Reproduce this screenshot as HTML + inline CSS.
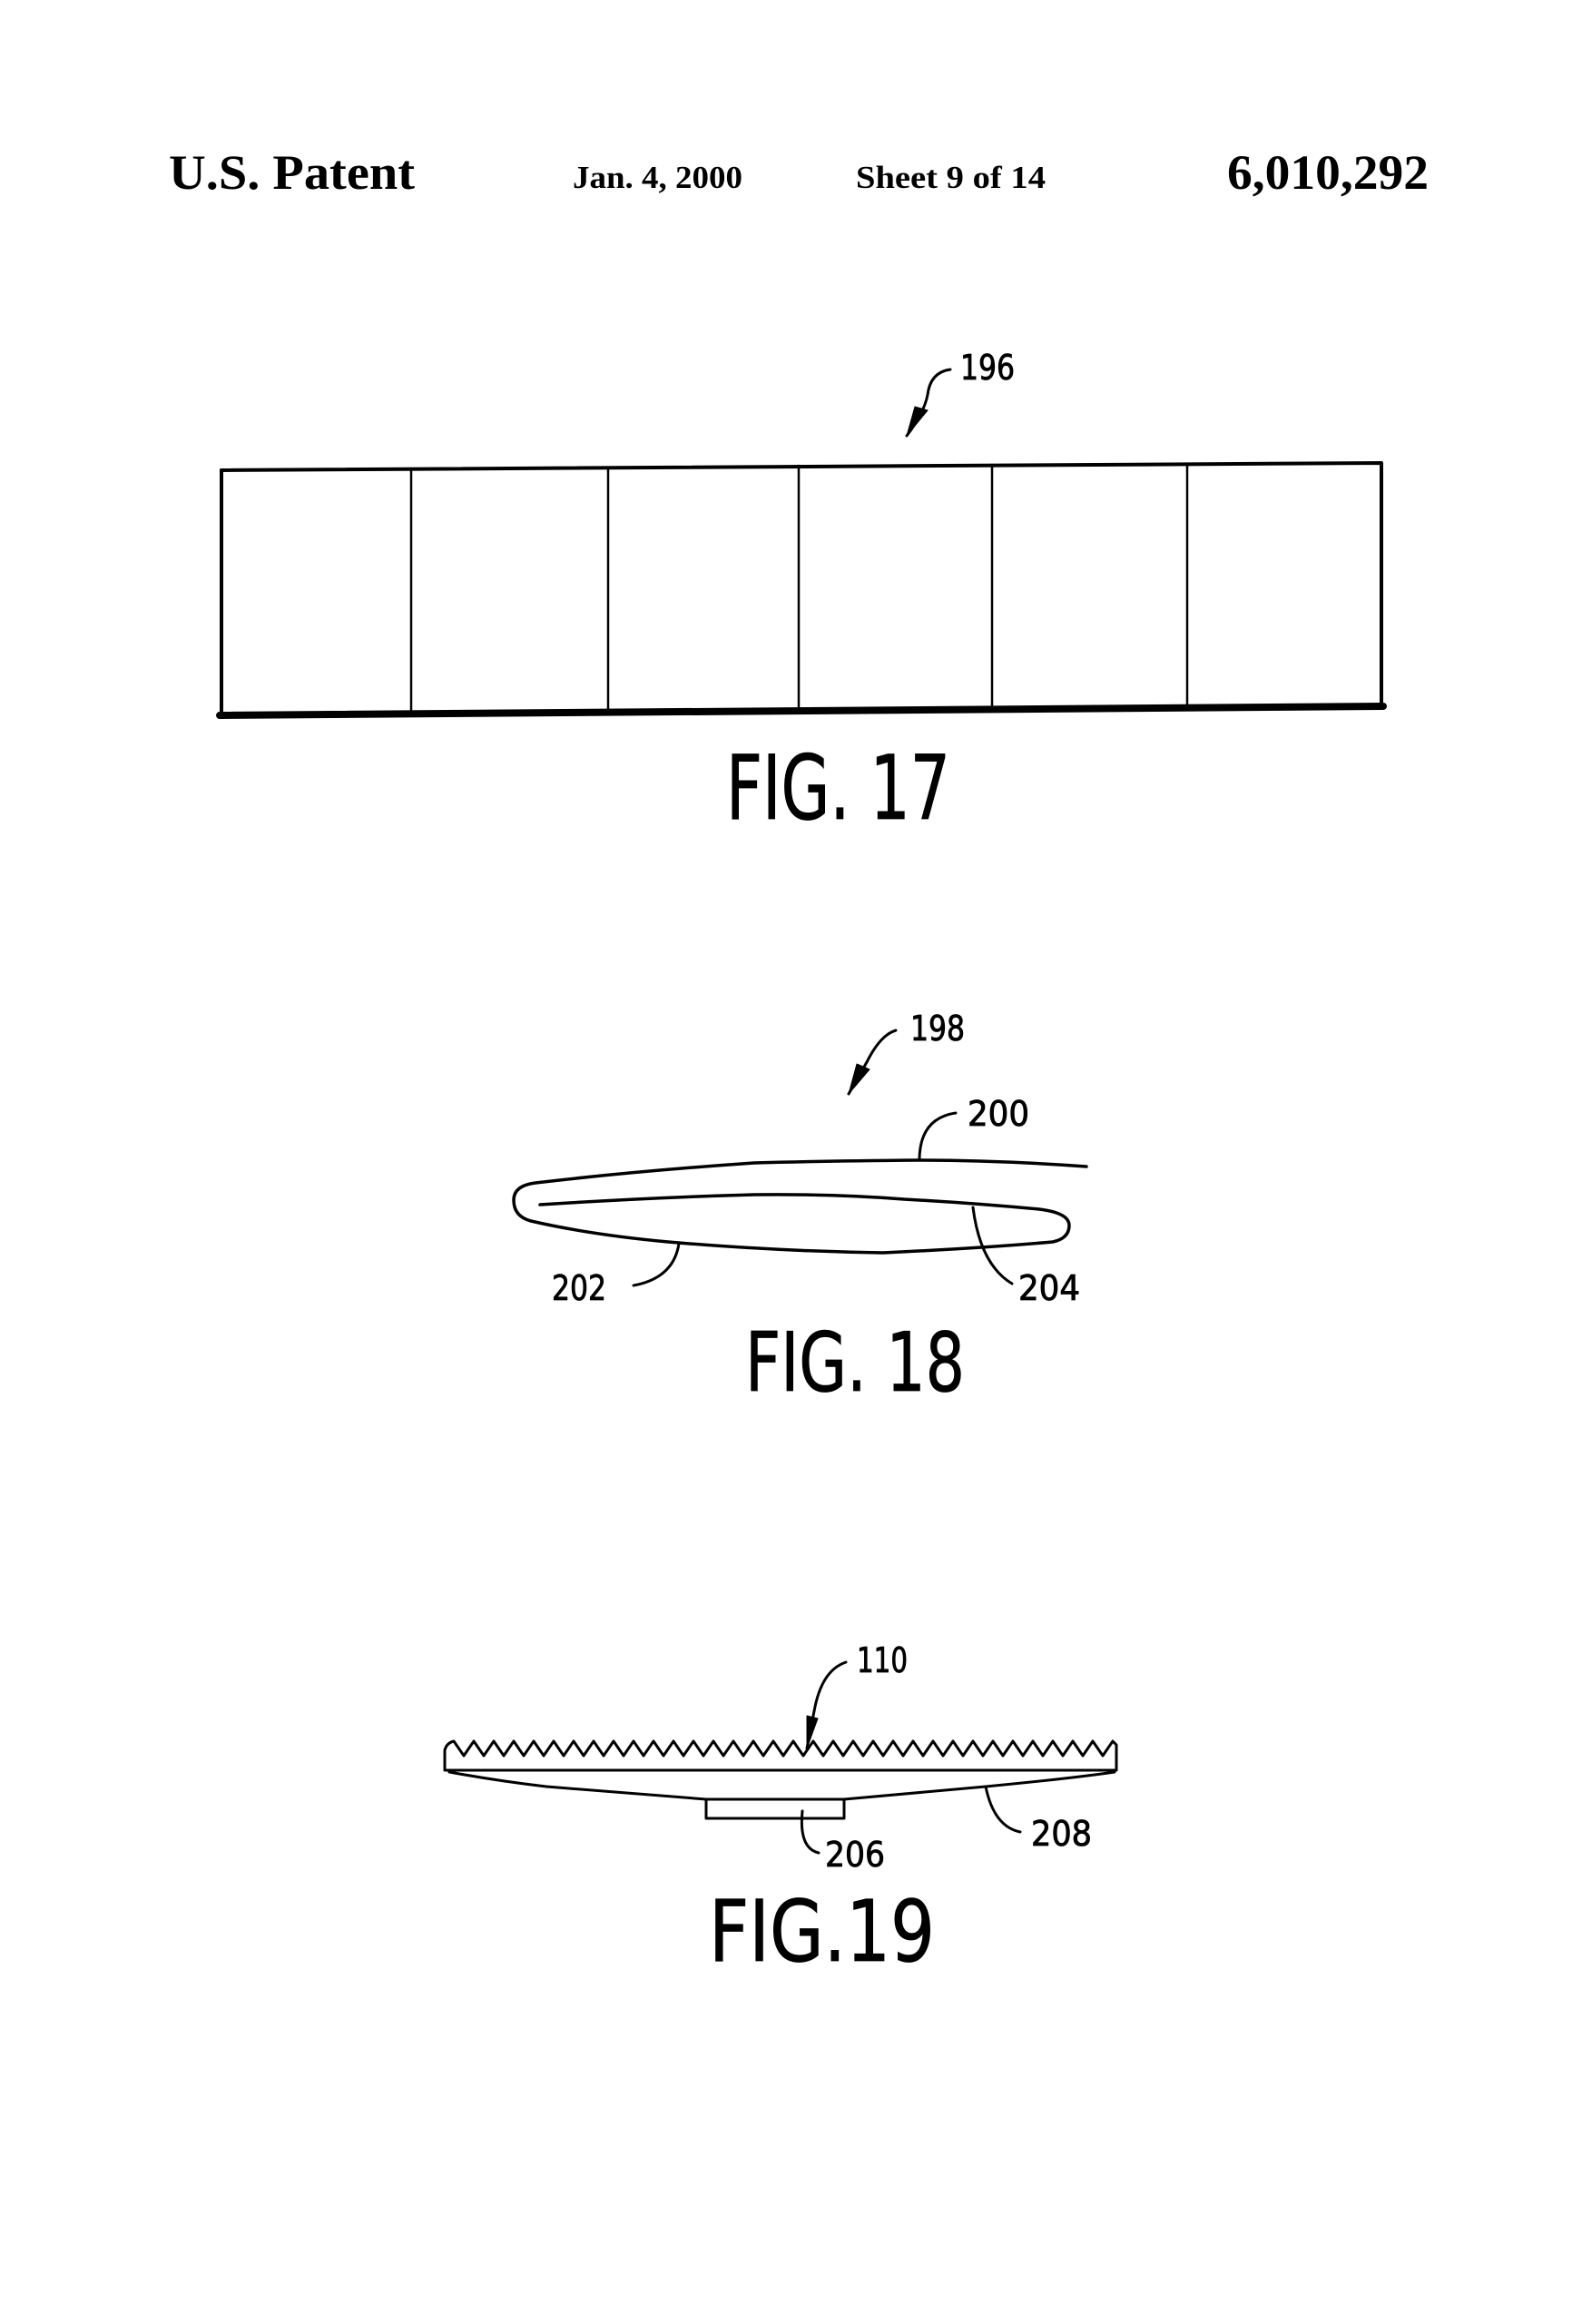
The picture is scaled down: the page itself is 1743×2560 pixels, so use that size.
<!DOCTYPE html>
<html><head><meta charset="utf-8"><style>
html,body{margin:0;padding:0;background:#fff;}
svg{display:block;}
.h{font-family:"Liberation Serif",serif;font-weight:bold;fill:#000;}
.l{font-family:"DejaVu Sans Condensed","DejaVu Sans","Liberation Sans",sans-serif;fill:#000;stroke:#000;stroke-width:0.8;}
</style></head><body>
<svg width="1743" height="2560" viewBox="0 0 1743 2560" xmlns="http://www.w3.org/2000/svg">
<rect width="1743" height="2560" fill="#fff"/>
<text class="h" x="186" y="208" font-size="54" textLength="271" lengthAdjust="spacingAndGlyphs">U.S. Patent</text>
<text class="h" x="631" y="207" font-size="35" textLength="187" lengthAdjust="spacingAndGlyphs">Jan. 4, 2000</text>
<text class="h" x="943" y="207" font-size="35" textLength="209" lengthAdjust="spacingAndGlyphs">Sheet 9 of 14</text>
<text class="h" x="1352" y="208" font-size="54" textLength="222" lengthAdjust="spacingAndGlyphs">6,010,292</text>

<g fill="none" stroke="#000" stroke-linecap="round" stroke-linejoin="round">
<!-- FIG 17 -->
<path d="M244 518 L1522 510 L1522 775" stroke-width="4"/>
<path d="M244 518 L244 784" stroke-width="4"/>
<path d="M242 788 L1524 778" stroke-width="8"/>
<path d="M453 516 L453 785 M670 515 L670 783 M880 513 L880 781 M1093 512 L1093 780 M1308 511 L1308 778" stroke-width="2.5"/>
<path d="M1047 407 Q1025 410 1022 435 Q1018 455 999 480" stroke-width="3"/>
<path d="M999 480 L1008 448 L1022 452 Z" fill="#000" stroke-width="1"/>

<!-- FIG 18 -->
<path d="M1197 1285 Q1100 1278 1011 1278 Q900 1279 831 1281 Q700 1290 590 1303 Q566 1306 566 1322 Q566 1340 585 1345 Q650 1360 736 1368 Q850 1378 973 1380 Q1080 1375 1160 1368 Q1178 1364 1178 1350 Q1178 1336 1145 1332 Q1070 1325 996 1321 Q920 1315 831 1316 Q720 1319 595 1327" stroke-width="3.5"/>
<path d="M1013 1278 Q1013 1232 1053 1226" stroke-width="3"/>
<path d="M698 1416 Q742 1408 748 1370" stroke-width="3"/>
<path d="M1115 1414 Q1080 1393 1072 1330" stroke-width="3"/>
<path d="M987 1135 Q970 1140 955 1170 L935 1205" stroke-width="3"/>
<path d="M935 1205 L944 1172 L958 1178 Z" fill="#000" stroke-width="1"/>

<!-- FIG 19 -->
<path d="M490 1950 L490 1928 Q492 1920 500 1918 L511 1934 L522 1918 L533 1934 L544 1918 L555 1934 L566 1918 L577 1934 L588 1918 L599 1934 L610 1918 L621 1934 L632 1918 L643 1934 L654 1918 L665 1934 L676 1918 L687 1934 L698 1918 L709 1934 L720 1918 L731 1934 L742 1918 L753 1934 L764 1918 L775 1934 L786 1918 L797 1934 L808 1918 L819 1934 L830 1918 L841 1934 L852 1918 L863 1934 L874 1918 L885 1934 L896 1918 L907 1934 L918 1918 L929 1934 L940 1918 L951 1934 L962 1918 L973 1934 L984 1918 L995 1934 L1006 1918 L1017 1934 L1028 1918 L1039 1934 L1050 1918 L1061 1934 L1072 1918 L1083 1934 L1094 1918 L1105 1934 L1116 1918 L1127 1934 L1138 1918 L1149 1934 L1160 1918 L1171 1934 L1182 1918 L1193 1934 L1204 1918 L1215 1934 L1226 1918 L1230 1922 L1230 1950 Z" stroke-width="3"/>
<path d="M495 1952 Q550 1962 602 1968 L778 1982 L930 1982 L1086 1968 Q1180 1959 1228 1952" stroke-width="3"/>
<path d="M778 1982 L778 2003 L930 2003 L930 1982" stroke-width="3"/>
<path d="M884 1995 Q880 2036 902 2041" stroke-width="3"/>
<path d="M1086 1968 Q1095 2012 1124 2018" stroke-width="3"/>
<path d="M932 1831 Q905 1840 897 1885 L889 1926" stroke-width="3"/>
<path d="M889 1926 L889 1890 L901 1893 Z" fill="#000" stroke-width="1"/>
</g>

<text class="l" x="1058" y="418" font-size="38" textLength="60" lengthAdjust="spacingAndGlyphs">196</text>
<text class="l" x="800" y="902" font-size="98" textLength="247" lengthAdjust="spacingAndGlyphs">FIG. 17</text>
<text class="l" x="1003" y="1146" font-size="38" textLength="60" lengthAdjust="spacingAndGlyphs">198</text>
<text class="l" x="1066" y="1240" font-size="38" textLength="68" lengthAdjust="spacingAndGlyphs">200</text>
<text class="l" x="608" y="1432" font-size="38" textLength="60" lengthAdjust="spacingAndGlyphs">202</text>
<text class="l" x="1122" y="1432" font-size="38" textLength="68" lengthAdjust="spacingAndGlyphs">204</text>
<text class="l" x="821" y="1532" font-size="90" textLength="242" lengthAdjust="spacingAndGlyphs">FIG. 18</text>
<text class="l" x="944" y="1842" font-size="38" textLength="56" lengthAdjust="spacingAndGlyphs">110</text>
<text class="l" x="909" y="2056" font-size="38" textLength="66" lengthAdjust="spacingAndGlyphs">206</text>
<text class="l" x="1136" y="2033" font-size="38" textLength="67" lengthAdjust="spacingAndGlyphs">208</text>
<text class="l" x="781" y="2160" font-size="94" textLength="249" lengthAdjust="spacingAndGlyphs">FIG.19</text>
</svg>
</body></html>
